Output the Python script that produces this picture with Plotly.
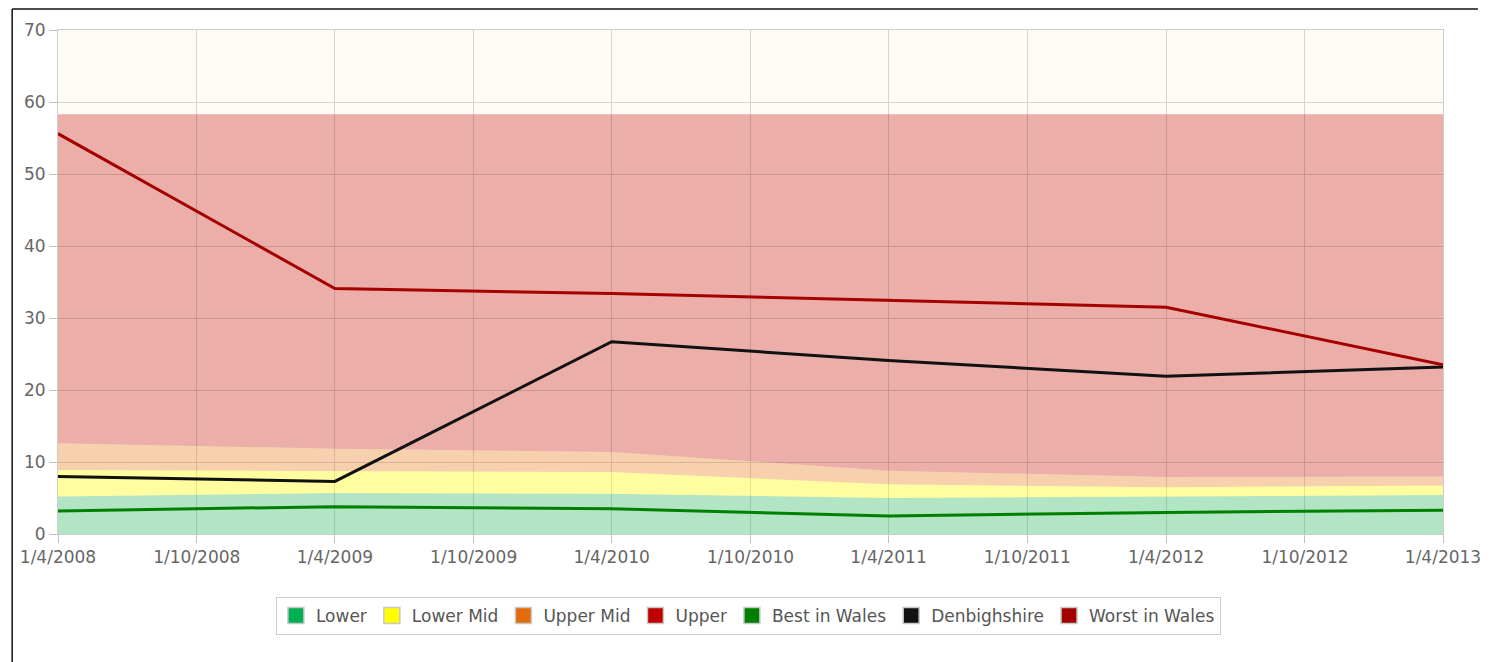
import plotly.graph_objects as go

# ---- data ----
dates = ["2008-04-01", "2009-04-01", "2010-04-01", "2011-04-01", "2012-04-01", "2013-04-01"]
lower = [5.2, 5.7, 5.6, 5.0, 5.2, 5.4]
lower_mid = [3.7, 3.1, 3.0, 1.9, 1.3, 1.35]
upper_mid = [3.7, 3.05, 2.8, 1.9, 1.4, 1.25]
upper = [45.7, 46.45, 46.9, 49.5, 50.4, 50.3]
best_in_wales = [3.2, 3.8, 3.5, 2.5, 3.0, 3.3]
denbighshire = [8.0, 7.3, 26.7, 24.1, 21.9, 23.2]
worst_in_wales = [55.6, 34.1, 33.4, 32.4, 31.5, 23.5]

tick_dates = ["2008-04-01", "2008-10-01", "2009-04-01", "2009-10-01", "2010-04-01",
              "2010-10-01", "2011-04-01", "2011-10-01", "2012-04-01", "2012-10-01",
              "2013-04-01"]
tick_labels = ["1/4/2008", "1/10/2008", "1/4/2009", "1/10/2009", "1/4/2010",
               "1/10/2010", "1/4/2011", "1/10/2011", "1/4/2012", "1/10/2012",
               "1/4/2013"]

FONT = "DejaVu Sans"

fig = go.Figure()

bands = [
    ("Lower", lower, "rgba(0,176,80,0.30)", "#00b050"),
    ("Lower Mid", lower_mid, "rgba(255,255,0,0.35)", "#ffff00"),
    ("Upper Mid", upper_mid, "rgba(227,108,10,0.30)", "#e36c0a"),
    ("Upper", upper, "rgba(192,0,0,0.31)", "#c00000"),
]
for name, vals, fill, _ in bands:
    fig.add_trace(go.Scatter(
        x=dates, y=vals, name=name, stackgroup="bands", mode="lines",
        line=dict(width=0), fillcolor=fill, showlegend=False,
        legendgroup=name, hoverinfo="x+y+name",
    ))

lines = [
    ("Best in Wales", best_in_wales, "#008000"),
    ("Denbighshire", denbighshire, "#111111"),
    ("Worst in Wales", worst_in_wales, "#a50000"),
]
for name, vals, col in lines:
    fig.add_trace(go.Scatter(
        x=dates, y=vals, name=name, mode="lines",
        line=dict(color=col, width=3), showlegend=False, legendgroup=name,
    ))

# legend entries as solid squares
legend_items = [(b[0], b[3]) for b in bands] + [(l[0], l[2]) for l in lines]
for name, col in legend_items:
    fig.add_trace(go.Scatter(
        x=[None], y=[None], name=name, mode="markers", legendgroup=name,
        marker=dict(symbol="square", size=16, color=col,
                    line=dict(color="#c8c8c8", width=1.5)),
    ))

# page body has an 8px margin; the figure is placed at (8, 8)
fig.update_layout(
    width=1491, height=654,
    margin=dict(l=47, r=56, t=22, b=128),
    paper_bgcolor="white",
    plot_bgcolor="#fffcf5",
    font=dict(family=FONT, size=17, color="#666666"),
    showlegend=True,
    legend=dict(
        orientation="h", x=0.4985, xanchor="center", y=-0.125, yanchor="top",
        bordercolor="#cccccc", borderwidth=1, bgcolor="white",
        font=dict(family=FONT, size=17, color="#555555"),
        itemsizing="trace", itemwidth=30, tracegroupgap=0,
    ),
    xaxis=dict(
        type="date", range=["2008-04-01", "2013-04-01"],
        tickvals=tick_dates, ticktext=tick_labels,
        showgrid=True, gridcolor="#d4d4d4", gridwidth=1,
        showline=True, linecolor="#cccccc", linewidth=1, mirror=True,
        ticks="outside", ticklen=8, tickcolor="#c0c0c0",
        tickfont=dict(family=FONT, size=17, color="#666666"),
        zeroline=False,
    ),
    yaxis=dict(
        range=[0, 70], dtick=10, tick0=0,
        showgrid=True, gridcolor="#d4d4d4", gridwidth=1,
        showline=True, linecolor="#cccccc", linewidth=1, mirror=True,
        ticks="outside", ticklen=8, tickcolor="#c0c0c0",
        tickfont=dict(family=FONT, size=17, color="#666666"),
        zeroline=False,
    ),
    shapes=[
        dict(type="line", xref="paper", yref="paper",
             x0=-0.0331, x1=-0.0331, y0=1.0417, y1=-0.26,
             line=dict(color="#111111", width=1.5)),
        dict(type="line", xref="paper", yref="paper",
             x0=-0.0331, x1=1.0252, y0=1.0417, y1=1.0417,
             line=dict(color="#111111", width=1.5)),
    ],
)

fig.write_html("out.html")
